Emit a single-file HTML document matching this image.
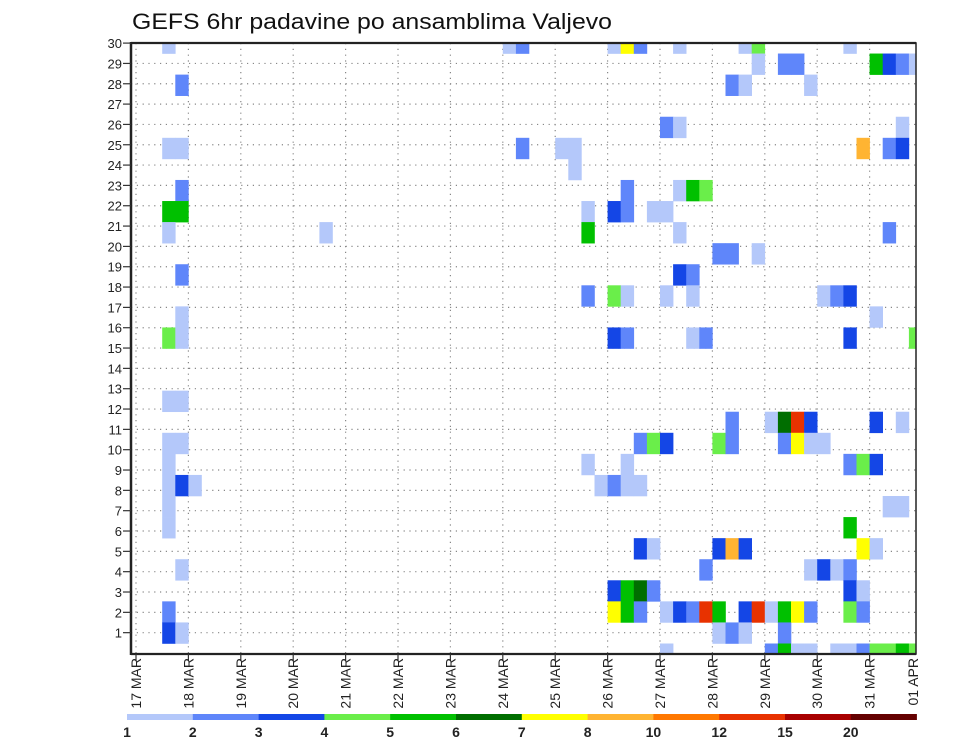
<!DOCTYPE html>
<html><head><meta charset="utf-8"><style>
html,body{margin:0;padding:0;background:#fff;}
svg{display:block;font-family:"Liberation Sans",sans-serif;}
</style></head><body>
<svg id="chart" width="960" height="742" viewBox="0 0 960 742" xmlns="http://www.w3.org/2000/svg">
<defs><clipPath id="plotclip"><rect x="131" y="43" width="785" height="611"/></clipPath></defs>
<text x="132" y="29" font-size="22" textLength="480" lengthAdjust="spacingAndGlyphs" fill="#111">GEFS 6hr padavine po ansamblima Valjevo</text>
<g id="grid"></g>
<g id="cells" clip-path="url(#plotclip)"></g>
<g id="axes"></g>
<g id="legend"></g>
</svg>
<script>
const rowMembers = [30,29,28,26,25,24,23,22,21,20,19,18,17,16,13,12,11,10,9,8,7,6,5,4,3,2,1];
const rowSteps = [
 [2,28,29,36,37,38,41,46,47,54],
 [47,49,50,56,57,58,59],
 [3,45,46,51],
 [40,41,58],
 [2,3,29,32,33,55,57,58],
 [33],
 [3,37,41,42,43],
 [2,3,34,36,37,39,40],
 [2,14,34,41,57],
 [44,45,47],
 [3,41,42],
 [34,36,37,40,42,52,53,54],
 [3,56],
 [2,3,36,37,42,43,54,59],
 [2,3],
 [45,48,49,50,51,56,58],
 [2,3,38,39,40,44,45,49,50,51,52],
 [2,34,37,54,55,56],
 [2,3,4,35,36,37,38],
 [2,57,58],
 [2,54],
 [38,39,44,45,46,55,56],
 [3,43,51,52,53,54],
 [36,37,38,39,54,55],
 [2,36,37,38,40,41,42,43,44,46,47,48,49,50,51,54,55],
 [2,3,44,45,46,49],
 [40,48,49,50,51,53,54,55,56,57,58,59]
];
const rowValues = [
 [1.5,1.5,2.5,1.5,7.5,2.5,1.5,1.5,4.5,1.5],
 [1.5,2.5,2.5,5.5,3.5,2.5,1.5],
 [2.5,2.5,1.5,1.5],
 [2.5,1.5,1.5],
 [1.5,1.5,2.5,1.5,1.5,9,2.5,3.5],
 [1.5],
 [2.5,2.5,1.5,5.5,4.5],
 [5.5,5.5,1.5,3.5,2.5,1.5,1.5],
 [1.5,1.5,5.5,1.5,2.5],
 [2.5,2.5,1.5],
 [2.5,3.5,2.5],
 [2.5,4.5,1.5,1.5,1.5,1.5,2.5,3.5],
 [1.5,1.5],
 [4.5,1.5,3.5,2.5,1.5,2.5,3.5,4.5],
 [1.5,1.5],
 [2.5,1.5,6.5,13,3.5,3.5,1.5],
 [1.5,1.5,2.5,4.5,3.5,4.5,2.5,2.5,7.5,1.5,1.5],
 [1.5,1.5,1.5,2.5,4.5,3.5],
 [1.5,3.5,1.5,1.5,2.5,1.5,1.5],
 [1.5,1.5,1.5],
 [1.5,5.5],
 [3.5,1.5,3.5,9,3.5,7.5,1.5],
 [1.5,2.5,1.5,3.5,1.5,2.5],
 [3.5,5.5,6.5,2.5,3.5,1.5],
 [2.5,7.5,5.5,2.5,1.5,3.5,2.5,13,5.5,3.5,13,1.5,5.5,7.5,2.5,4.5,2.5],
 [3.5,1.5,1.5,2.5,1.5,2.5],
 [1.5,2.5,5.5,1.5,1.5,1.5,1.5,2.5,4.5,4.5,5.5,4.5]
];
const dayLabels = ["17 MAR","18 MAR","19 MAR","20 MAR","21 MAR","22 MAR","23 MAR","24 MAR","25 MAR","26 MAR","27 MAR","28 MAR","29 MAR","30 MAR","31 MAR","01 APR"];
const levelBounds = [1,2,3,4,5,6,7,8,10,12,15,20];
const levelColors = ["#b4c8fa","#5f86fa","#1446e6","#6aee4a","#00c000","#006e00","#ffff00","#ffb432","#ff7800","#e83200","#a80000","#640000"];

const NS = "http://www.w3.org/2000/svg";
function mk(tag, attrs, parent){const e=document.createElementNS(NS,tag);for(const k in attrs)e.setAttribute(k,attrs[k]);parent.appendChild(e);return e;}
const X0=136, DAY=52.4, STEP=DAY/4, PL=131, PR=916, PT=43, PB=654;
const xStep = s => X0 + s*STEP;
const xDay = d => X0 + d*DAY;
const yTick = n => 653 - n*20.33;
const CELLH = 21.07;
const yCell = m => PT + (30-m)*CELLH;
function colorFor(v){let c=null;for(let i=0;i<levelBounds.length;i++){if(v>=levelBounds[i])c=levelColors[i];}return c;}

const grid=document.getElementById('grid'), cells=document.getElementById('cells'), axes=document.getElementById('axes'), legend=document.getElementById('legend');
for(let n=1;n<=29;n++){
  const l=mk('line',{x1:PL,x2:PR,y1:yTick(n),y2:yTick(n),stroke:'#888','stroke-width':1.2,'stroke-dasharray':'1.2,4.6'},grid);
  
  
}
for(let d=0;d<15;d++){
  const l=mk('line',{x1:xDay(d),x2:xDay(d),y1:PT,y2:PB,stroke:'#888','stroke-width':1.2,'stroke-dasharray':'1.2,4.6'},grid);
  
  
}
rowMembers.forEach((m,ri)=>{
  rowSteps[ri].forEach((s,k)=>{
    const r=mk('rect',{x:xStep(s),y:yCell(m)-CELLH/2,width:STEP+0.3,height:CELLH+0.3,fill:colorFor(rowValues[ri][k])},cells);
    
    
  });
});
mk('rect',{x:PL,y:PT,width:PR-PL,height:PB-PT,fill:'none',stroke:'#222','stroke-width':1.5},axes);
mk('line',{x1:PL,x2:PL,y1:PT-1,y2:PB+1,stroke:'#222','stroke-width':2.5},axes);
mk('line',{x1:PL,x2:PR,y1:PT,y2:PT,stroke:'#222','stroke-width':2.2},axes);
mk('line',{x1:PL,x2:PR,y1:PB,y2:PB,stroke:'#222','stroke-width':2.2},axes);
for(let n=1;n<=30;n++){
  mk('line',{x1:PL-8,x2:PL,y1:yTick(n),y2:yTick(n),stroke:'#333','stroke-width':1.2},axes);
  const t=mk('text',{x:PL-9,y:yTick(n)+5,'font-size':13,'text-anchor':'end',fill:'#222'},axes);
  t.textContent=n;
  
  
}
dayLabels.forEach((lab,d)=>{
  const x = d===15 ? 913 : xDay(d);
  if(d<15) mk('line',{x1:x,x2:x,y1:PB,y2:PB+7,stroke:'#333','stroke-width':1.2},axes);
  const t=mk('text',{x:0,y:0,'font-size':14,'text-anchor':'end',fill:'#222',transform:'translate('+(x+5)+','+(PB+4)+') rotate(-90)'},axes);
  t.textContent=lab;
  
  
});
const LX=127, LW=65.8, LY=714;
levelColors.forEach((c,i)=>{
  const r=mk('rect',{x:LX+i*LW,y:LY,width:LW+0.3,height:6,fill:c},legend);
  
  
  const t=mk('text',{x:LX+i*LW,y:737,'font-size':14,'font-weight':'bold','text-anchor':'middle',fill:'#222'},legend);
  t.textContent=levelBounds[i];
  
  
});
</script>
</body></html>
